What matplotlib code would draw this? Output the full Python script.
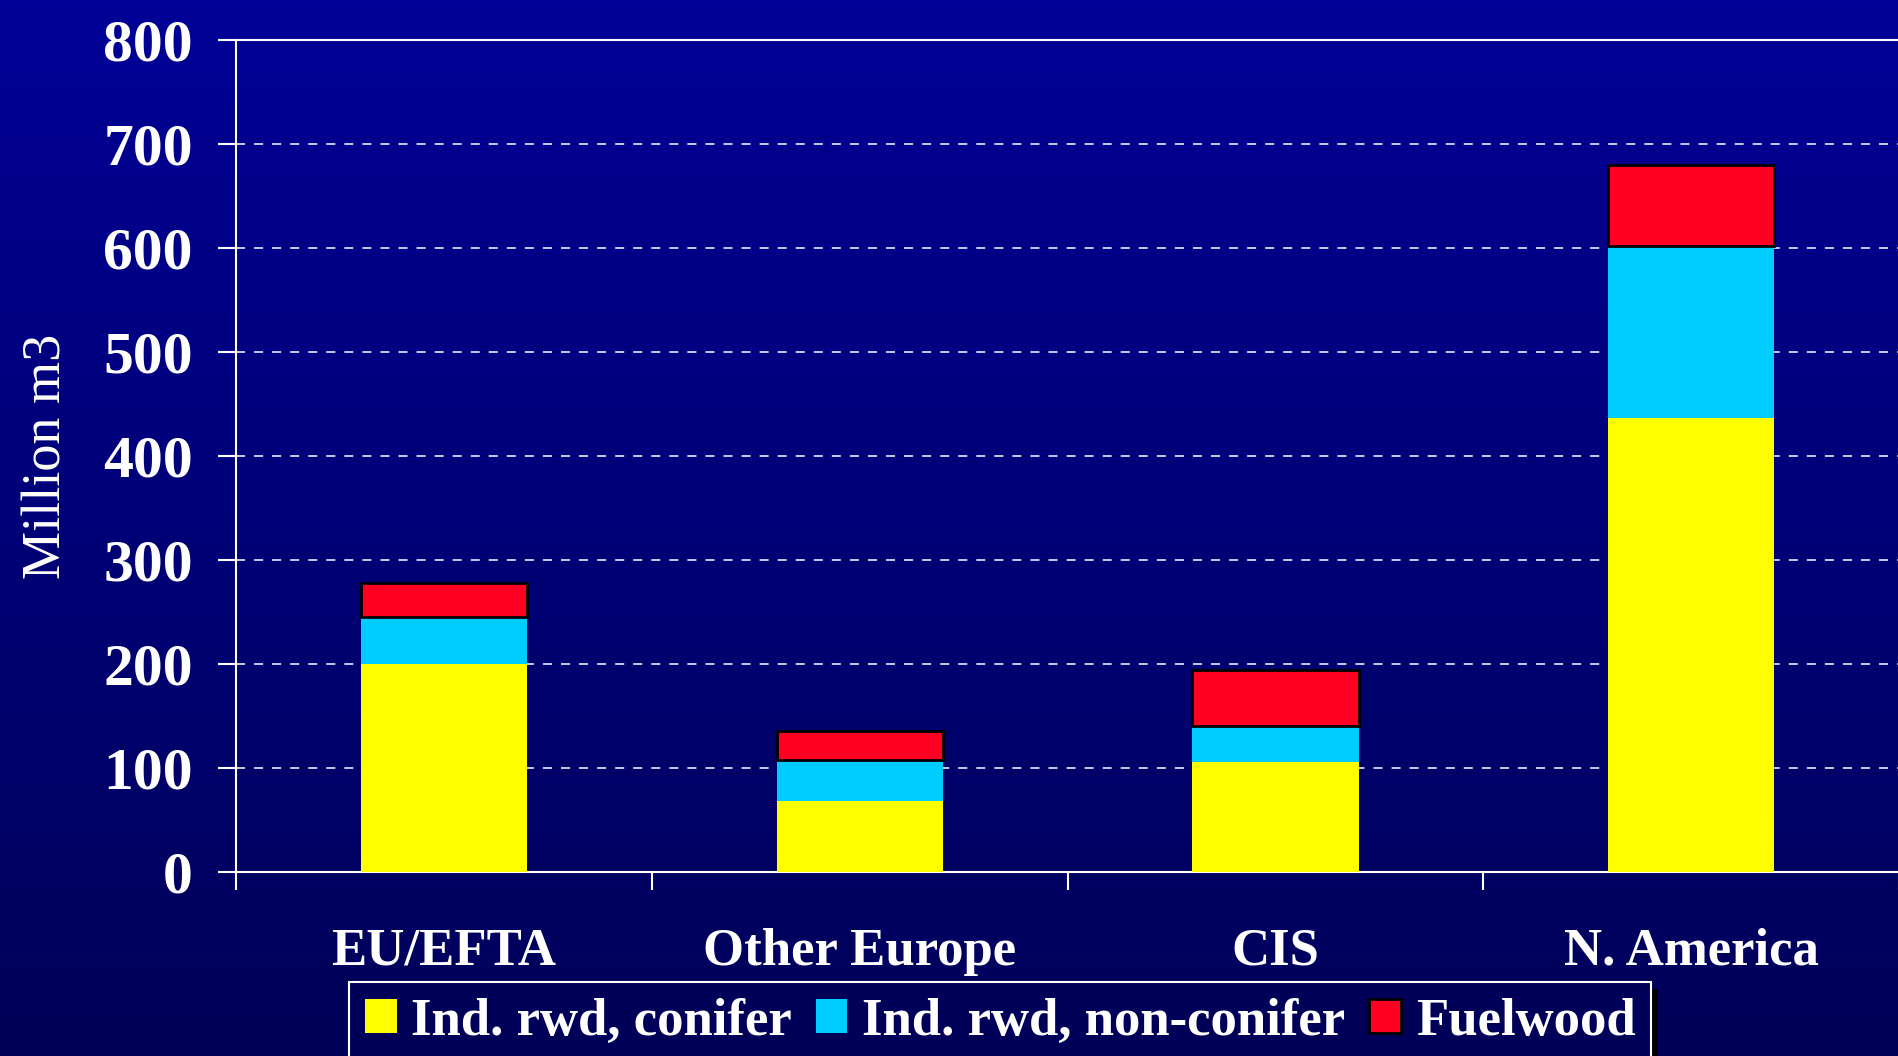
import matplotlib
import matplotlib.patheffects as pe
import numpy as np

matplotlib.use("Agg")
import matplotlib.pyplot as plt  # noqa: E402

# values, million m3
regions = ["EU/EFTA", "Other Europe", "CIS", "N. America"]
conifer = [200, 68, 106, 437]
non_conifer = [45, 40, 34, 165]
fuelwood = [33, 28, 54, 78]
series_names = ["Ind. rwd, conifer", "Ind. rwd, non-conifer", "Fuelwood"]
y_ticks = [0, 100, 200, 300, 400, 500, 600, 700, 800]

SERIF = "Liberation Serif"
YELLOW = "#FFFF00"
CYAN = "#00CCFF"
RED = "#FF0022"

fig = plt.figure(figsize=(18.99, 10.56), dpi=100)

# background gradient, lighter navy at the top
bg = fig.add_axes([0, 0, 1, 1], zorder=-10)
top = np.array([0, 0, 150]) / 255
bot = np.array([0, 0, 88]) / 255
t = np.linspace(0, 1, 256)[:, None]
grad = (top * (1 - t) + bot * t)[:, None, :]
bg.imshow(grad, aspect="auto", extent=[0, 1, 0, 1])
bg.set_axis_off()

ax = fig.add_axes([0.1243, 0.1742, 0.8757, 0.7879])
ax.set_facecolor("none")

x = np.arange(len(regions))
w = 0.40
ax.bar(x, conifer, w, color=YELLOW, label=series_names[0], zorder=3)
ax.bar(x, non_conifer, w, bottom=conifer, color=CYAN, label=series_names[1], zorder=3)
base2 = np.array(conifer) + np.array(non_conifer)
ax.bar(x, fuelwood, w, bottom=base2, color=RED, edgecolor="black", linewidth=2,
       label=series_names[2], zorder=3)

ax.set_xlim(-0.5, len(regions) - 0.5)
ax.set_ylim(0, 800)
ax.set_yticks(y_ticks)
ax.set_yticklabels([str(v) for v in y_ticks], fontfamily=SERIF, fontweight="bold",
                   fontsize=43, color="white")
ax.set_xticks(x)
ax.set_xticklabels(regions, fontfamily=SERIF, fontweight="bold", fontsize=38, color="white")
ax.set_xticks(np.arange(len(regions) + 1) - 0.5, minor=True)
ax.tick_params(axis="x", which="major", length=0, pad=40)
ax.tick_params(axis="x", which="minor", length=13, width=1.5, color="white", direction="out")
ax.tick_params(axis="y", length=13, width=1.5, color="white", direction="out", pad=18)

for v in y_ticks[1:-1]:
    ax.axhline(v, color="#d8d8f0", linewidth=1.3, linestyle=(0, (5, 5)), zorder=1)

for side in ["left", "bottom", "top"]:
    ax.spines[side].set_color("white")
    ax.spines[side].set_linewidth(1.5)
ax.spines["right"].set_visible(False)

ax.set_ylabel("Million m3", fontfamily=SERIF, fontsize=39, color="white", labelpad=22)

leg = fig.legend(loc="upper left", bbox_to_anchor=(0.1838, 0.0701), ncol=3,
                 prop={"family": SERIF, "weight": "bold", "size": 38},
                 frameon=True, fancybox=False, framealpha=1, facecolor="#000058",
                 edgecolor="white",
                 handlelength=0.6, handleheight=0.6, handletextpad=0.28,
                 columnspacing=0.45, borderpad=0.3, borderaxespad=0)
frame = leg.get_frame()
frame.set_linewidth(1.5)
frame.set_path_effects([pe.SimplePatchShadow(offset=(5, -5), shadow_rgbFace="black", alpha=1),
                        pe.Normal()])
for txt in leg.get_texts():
    txt.set_color("white")

fig.savefig("out.png", dpi=100)
